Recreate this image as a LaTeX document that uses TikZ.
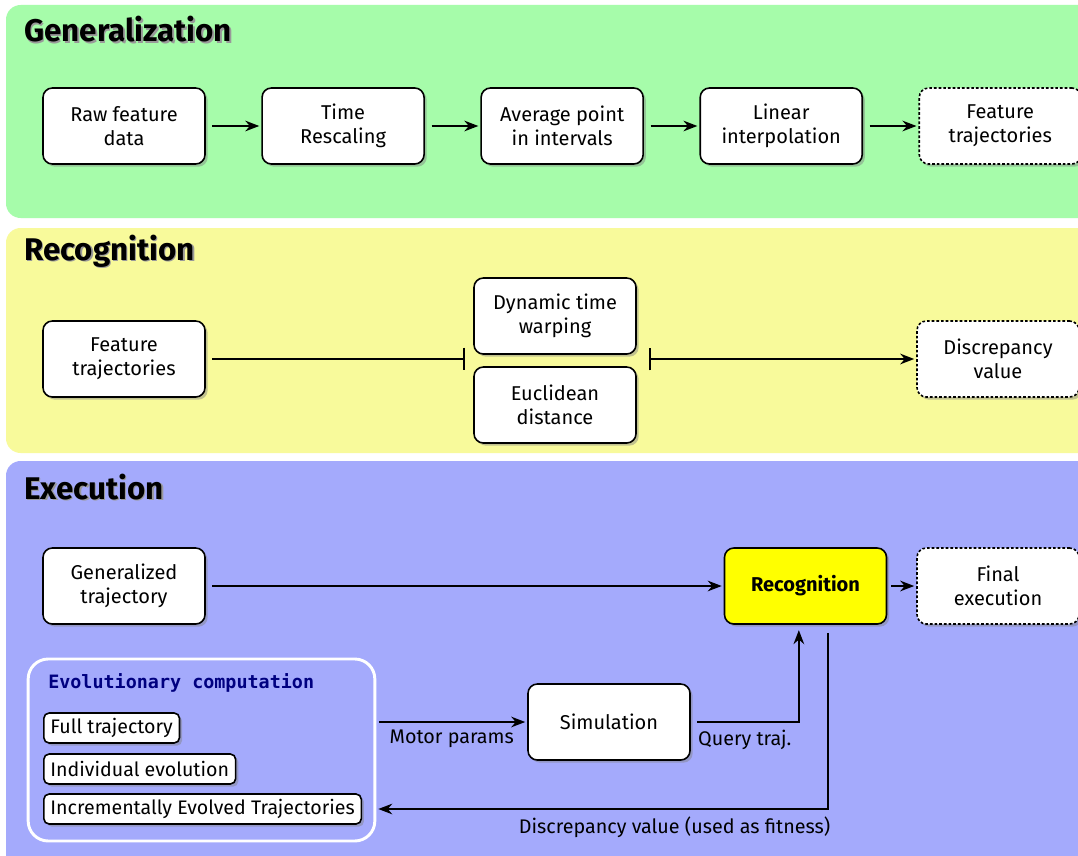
\documentclass[tikz,border=0pt]{standalone}
\usepackage{fontspec}
\setmainfont{Fira Sans}
\setmonofont{DejaVu Sans Mono}
\usetikzlibrary{positioning,shadows,fit,arrows.meta}

\definecolor{genbg}{RGB}{166,252,170}
\definecolor{recbg}{RGB}{248,250,155}
\definecolor{exebg}{RGB}{164,170,252}
\definecolor{evotitle}{RGB}{0,0,128}
\definecolor{recfill}{RGB}{255,255,0}

\begin{document}
\begin{tikzpicture}[
  x=0.75pt, y=-0.75pt,
  node distance=41.6pt,
  heading/.style={anchor=base west,inner sep=0pt,font=\fontsize{23.5}{28}\selectfont\bfseries},
  box/.style={rectangle,draw,line width=1.2pt,rounded corners=7pt,fill=white,
    minimum width=121.5pt,minimum height=57pt,align=center,font=\fontsize{15}{18}\selectfont,
    drop shadow={shadow xshift=2pt,shadow yshift=-2pt,opacity=0.45}},
  outbox/.style={box,dash pattern=on 2pt off 1.5pt},
  tag/.style={box,anchor=west,minimum width=0pt,minimum height=22.5pt,inner xsep=5pt,rounded corners=4pt,font=\fontsize{14.7}{17}\selectfont},
  tip/.style={-{Stealth[length=10.5pt,width=8pt]}},
  arrow/.style={tip,line width=1.3pt,shorten <=5pt,shorten >=1.5pt},
  lbl/.style={font=\fontsize{14.8}{17}\selectfont}
]
\useasboundingbox (0,0) rectangle (1078,856);
\clip (0,0) rectangle (1078,856);
\fill[white] (0,0) rectangle (1078,856);

% panels
\fill[genbg,rounded corners=11pt] (6,5) rectangle (1110,218);
\fill[recbg,rounded corners=11pt] (6,228) rectangle (1110,453);
\fill[exebg,rounded corners=11pt] (6,461) rectangle (1110,880);

\foreach \t/\y in {Generalization/42,Recognition/260,Execution/499} {
  \node[heading,text=black!40] at (25.5,\y+1.5) {\t};
  \node[heading] (head-\t) at (24,\y) {\t};
}

% generalization
\node[box] (raw) at (124,126) {Raw feature\\data};
\node[box,right=of raw] (resc) {Time\\Rescaling};
\node[box,right=of resc] (avg) {Average point\\in intervals};
\node[box,right=of avg] (lin) {Linear\\interpolation};
\node[outbox,right=of lin] (traj) {Feature\\trajectories};

\draw[arrow] (raw) -- (resc);
\draw[arrow] (resc) -- (avg);
\draw[arrow] (avg) -- (lin);
\draw[arrow] (lin) -- (traj);

% recognition
\node[box] (feat) at (124,359) {Feature\\trajectories};
\node[box] (dtw) at (555,316) {Dynamic time\\warping};
\node[box] (euc) at (555,405) {Euclidean\\distance};
\node[outbox] (disc) at (998,359) {Discrepancy\\value};
\node[fit=(dtw)(euc),inner sep=0pt] (metric) {};

\draw[-{Bar[width=17pt]},line width=1.3pt,shorten <=5pt,shorten >=6pt] (feat) -- (metric.west |- feat);
\draw[{Bar[width=17pt]}-{Stealth[length=10.5pt,width=8pt]},line width=1.3pt,shorten <=9pt,shorten >=1.5pt] (metric.east |- disc) -- (disc);

% execution
\node[box] (gent) at (124,586) {Generalized\\trajectory};
\node[box,fill=recfill,font=\fontsize{15}{18}\selectfont\bfseries] (recog) at (805.5,586) {Recognition};
\node[outbox] (final) at (998,586) {Final\\execution};

\draw[arrow] (gent) -- (recog);
\draw[arrow,shorten <=3pt] (recog) -- (final);

\node[draw=white,line width=2.2pt,rounded corners=15pt,minimum width=260pt,minimum height=136.5pt] (evo) at (201.5,750) {};
\node[anchor=west,inner sep=0pt,text=evotitle,font=\ttfamily\bfseries\fontsize{13.8}{16}\selectfont] (evohead) at (48,683) {Evolutionary computation};
\node[tag] (full) at (43,728) {Full trajectory};
\node[tag] (indiv) at (43,769) {Individual evolution};
\node[tag] (incr) at (43,809) {Incrementally Evolved Trajectories};

\node[box] (sim) at (609,722) {Simulation};

\draw[arrow,shorten <=2pt] (evo.east |- sim) -- (sim) node[lbl,midway,below=2pt] {Motor params};
\draw[arrow,shorten >=4pt] (sim.east) -| ([xshift=-5pt]recog.south) node[lbl,pos=0.25,below=2pt] {Query traj.};
\draw[arrow,shorten <=6pt] ([xshift=17pt]recog.south) |- (evo.east |- incr) node[lbl,pos=0.67,below=2pt] {Discrepancy value (used as fitness)};
\end{tikzpicture}
\end{document}
